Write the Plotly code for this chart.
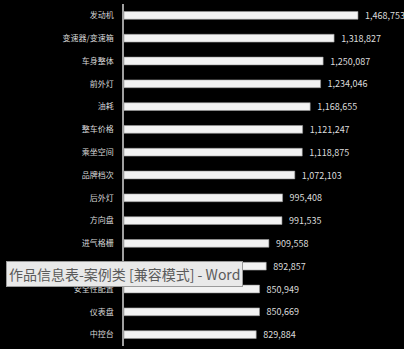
import plotly.graph_objects as go

categories = ["发动机", "变速器/变速箱", "车身整体", "前外灯", "油耗", "整车价格", "乘坐空间",
              "品牌档次", "后外灯", "方向盘", "进气格栅", "空调", "安全性配置", "仪表盘", "中控台"]
values = [1468753, 1318827, 1250087, 1234046, 1168655, 1121247, 1118875,
          1072103, 995408, 991535, 909558, 892857, 850949, 850669, 829884]
labels = ["  " + f"{v:,}" for v in values]

W, H = 404, 349
ML, MR, MT, MB = 124, 0, 4, 3
PW, PH = W - ML - MR, H - MT - MB

fig = go.Figure(go.Bar(
    x=values, y=categories, orientation="h",
    text=labels, textposition="outside", cliponaxis=False,
    constraintext="none",
    textfont=dict(color="#dcdcdc", size=9),
    marker=dict(color="#f2f2f2", line=dict(color="#9a9a9a", width=0.6)),
    width=0.34,
))

fig.update_layout(
    width=W, height=H,
    margin=dict(l=ML, r=MR, t=MT, b=MB),
    paper_bgcolor="black", plot_bgcolor="black",
    font=dict(family="Noto Sans CJK SC", color="#d8d8d8", size=8),
    showlegend=False,
)
fig.update_xaxes(range=[0, 1757700], visible=False, showgrid=False, zeroline=False)
fig.update_yaxes(autorange="reversed", showgrid=False, zeroline=False,
                 showline=True, linecolor="#a0a0a0", linewidth=1.5,
                 ticks="", ticklabelstandoff=7,
                 tickfont=dict(size=8, color="#d8d8d8"))

# overlay window tooltip seen in the screenshot
fig.add_annotation(
    xref="paper", yref="paper",
    x=(6 - ML) / PW, y=1 - (274 - MT) / PH,
    xanchor="left", yanchor="middle",
    text="作品信息表-案例类 [兼容模式] - Word",
    showarrow=False,
    font=dict(family="Noto Sans CJK SC", size=14, color="#5a5a5a"),
    bgcolor="#e9e9e9", bordercolor="#9a9a9a", borderwidth=1, borderpad=2,
)

fig.write_html("out.html")
